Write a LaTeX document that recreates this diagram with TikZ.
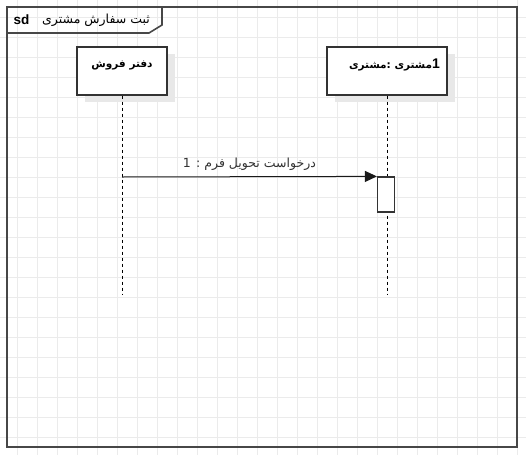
\documentclass[tikz,border=0pt]{standalone}
\usepackage{fontspec}
\setmainfont{Liberation Sans}
\newfontfamily\arabicfont[Script=Arabic]{DejaVu Sans}
\TeXXeTstate=1
\usetikzlibrary{arrows.meta,shadows}
\definecolor{gridgray}{HTML}{EBEBEB}
\definecolor{linegray}{HTML}{333333}
\tikzset{
  gridline/.style={draw=gridgray, line width=0.8pt},
  frameline/.style={draw=linegray!90, line width=1.6pt},
  lifebox/.style={draw=linegray, line width=1.2pt, fill=white, inner sep=0pt, minimum height=48pt,
    general shadow={fill=black!9, shadow xshift=8pt, shadow yshift=-7pt}},
  boxtext/.style={font=\arabicfont\bfseries\fontsize{10.5}{12}\selectfont, inner sep=0pt},
  lifeline/.style={draw=black, line width=0.9pt, dash pattern=on 3pt off 3pt},
  actbox/.style={draw=linegray, line width=1.2pt, fill=white, minimum width=17pt, minimum height=35pt, inner sep=0pt},
  msg/.style={draw=black!90, line width=1pt, -{Triangle[length=12pt,width=11pt]}},
}
\begin{document}
\begin{tikzpicture}[x=1pt, y=-1pt]
        % Background and grid
        \fill[white] (0,0) rectangle (526,455);
        \useasboundingbox (0,0) rectangle (526,455);
        \foreach \x in {17,37,...,517} \draw[gridline] (\x,0) -- (\x,455);
        \foreach \y in {17,37,...,437} \draw[gridline] (0,\y) -- (526,\y);
        % Frame
        \draw[frameline] (7,7) rectangle (517,447);
        \draw[frameline] (7,33) -- (149,33) -- (162,25) -- (162,7);
        \node[font=\bfseries\fontsize{13.5}{14}\selectfont, inner sep=0pt] (sd) at (21.5,20) {sd};
        \node[font=\arabicfont\fontsize{12.5}{14}\selectfont, inner sep=0pt] (title) at (96,20) {\beginR ثبت سفارش مشتری\endR};
        % Lifeline heads
        \node[lifebox, minimum width=90pt] (sales) at (122,71) {};
        \node[lifebox, minimum width=120pt] (customer) at (387,71) {};
        \node[boxtext] (sales-label) at (122,65.5) {\beginR دفتر فروش\endR};
        \node[boxtext] (customer-label) at (394.5,65) {\mbox{\beginR مشتری\endR}\mbox{:}\ \mbox{\beginR مشتری\endR}\mbox{\fontspec{Liberation Sans}\bfseries\fontsize{14}{14}\selectfont 1}};
        % Lifelines
        \coordinate (sales-end) at (122,295);
        \coordinate (customer-end) at (387,295);
        \draw[lifeline] (sales) -- (sales-end);
        \draw[lifeline] (customer) -- (customer-end);
        % Message
        \node[actbox] (act) at (386,194.5) {};
        \coordinate (msg-start) at (122,177);
        \draw[msg] (msg-start) -- (act.north west) node[midway, above=6pt, font=\arabicfont\fontsize{12.5}{14}\selectfont, text=linegray, inner sep=0pt] (msg-label) {\beginR درخواست تحویل فرم : 1\endR};
    \end{tikzpicture}
\end{document}
